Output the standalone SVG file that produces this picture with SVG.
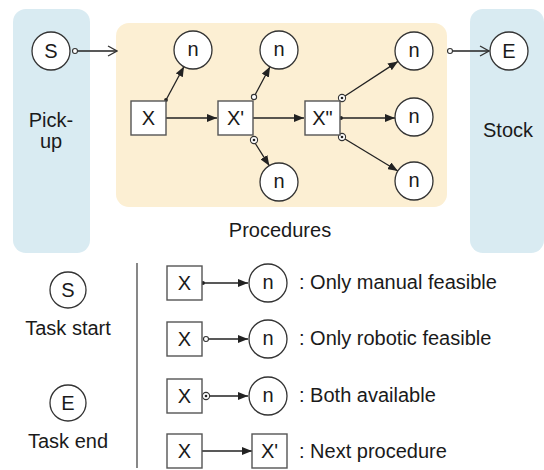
<svg xmlns="http://www.w3.org/2000/svg" width="544" height="470" viewBox="0 0 544 470">
<style>
text{font-family:"Liberation Sans",Arial,Helvetica,sans-serif;font-size:20px;fill:#1a1a1a;text-anchor:middle}
.lt{text-anchor:start}
.box{fill:#fff;stroke:#555;stroke-width:1.4}
.nd{fill:#fff;stroke:#333;stroke-width:1.3}
.ln{stroke:#222;stroke-width:1.3;fill:none}
.oc{fill:#fff;stroke:#333;stroke-width:1.1}
.dt{fill:#222}
</style>
<defs>
<marker id="ah" markerUnits="userSpaceOnUse" markerWidth="10" markerHeight="8" refX="10" refY="4" orient="auto"><path d="M0,0 L10,4 L0,8 z" fill="#222"/></marker>
<marker id="vee" markerUnits="userSpaceOnUse" markerWidth="11" markerHeight="12" refX="10" refY="6" orient="auto"><path d="M1,1 L10,6 L1,11" fill="none" stroke="#333" stroke-width="1.3"/></marker>
</defs>
<g id="panels">
<rect x="13" y="9" width="77" height="244" rx="13" fill="#d9ebf2"/>
<rect x="470" y="9" width="74" height="244" rx="13" fill="#d9ebf2"/>
<rect x="116" y="23" width="331" height="184" rx="13" fill="#fcefd3"/>
<text x="51" y="127">Pick-</text>
<text x="51" y="148">up</text>
<text x="508" y="137">Stock</text>
<text x="280" y="237">Procedures</text>
</g>
<g id="connectors">
<line class="ln" x1="77.5" y1="51" x2="117" y2="51" marker-end="url(#vee)"/>
<circle class="oc" cx="75" cy="51" r="2.5"/>
<line class="ln" x1="452.5" y1="51" x2="489" y2="51" marker-end="url(#vee)"/>
<circle class="oc" cx="450" cy="51" r="2.5"/>
<line class="ln" x1="166" y1="100" x2="184" y2="66.5" marker-end="url(#ah)"/>
<circle class="dt" cx="166" cy="100" r="1.9"/>
<line class="ln" x1="166" y1="118" x2="217" y2="118" marker-end="url(#ah)"/>
<line class="ln" x1="253" y1="118" x2="304" y2="118" marker-end="url(#ah)"/>
<line class="ln" x1="255" y1="95" x2="270" y2="66.8" marker-end="url(#ah)"/>
<circle class="oc" cx="254" cy="97" r="2.6"/>
<line class="ln" x1="255" y1="143" x2="269.3" y2="165.7" marker-end="url(#ah)"/>
<circle class="oc" cx="254" cy="140" r="3.6"/><circle class="dt" cx="254" cy="140" r="1.3"/>
<line class="ln" x1="345" y1="96" x2="398" y2="61.4" marker-end="url(#ah)"/>
<circle class="oc" cx="342" cy="98" r="3.6"/><circle class="dt" cx="342" cy="98" r="1.3"/>
<line class="ln" x1="341" y1="118" x2="395" y2="118" marker-end="url(#ah)"/>
<circle class="dt" cx="341" cy="118" r="1.9"/>
<line class="ln" x1="345" y1="139" x2="397.8" y2="171" marker-end="url(#ah)"/>
<circle class="oc" cx="342" cy="137" r="3.6"/><circle class="dt" cx="342" cy="137" r="1.3"/>
<line class="ln" x1="202" y1="283" x2="248" y2="283" marker-end="url(#ah)"/>
<circle class="dt" cx="203" cy="283" r="1.9"/>
<line class="ln" x1="208.5" y1="339" x2="248" y2="339" marker-end="url(#ah)"/>
<circle class="oc" cx="206" cy="339" r="2.5"/>
<line class="ln" x1="209.5" y1="396" x2="248" y2="396" marker-end="url(#ah)"/>
<circle class="oc" cx="206" cy="396" r="3.6"/><circle class="dt" cx="206" cy="396" r="1.3"/>
<line class="ln" x1="202" y1="451" x2="252" y2="451" marker-end="url(#ah)"/>
</g>
<g id="S"><circle class="nd" cx="51" cy="51" r="19"/><text x="51" y="58">S</text></g>
<g id="E"><circle class="nd" cx="509" cy="51" r="19"/><text x="509" y="58">E</text></g>
<g id="X"><rect class="box" x="131" y="101" width="35" height="34"/><text x="148.5" y="125">X</text></g>
<g id="Xp"><rect class="box" x="218" y="101" width="35" height="34"/><text x="235.5" y="125">X'</text></g>
<g id="Xpp"><rect class="box" x="305" y="101" width="35" height="34"/><text x="322.5" y="125">X"</text></g>
<g id="n1"><circle class="nd" cx="193" cy="50" r="19"/><text x="193" y="56">n</text></g>
<g id="n2"><circle class="nd" cx="279" cy="50" r="19"/><text x="279" y="56">n</text></g>
<g id="n3"><circle class="nd" cx="279" cy="182" r="19"/><text x="279" y="188">n</text></g>
<g id="n4"><circle class="nd" cx="414" cy="51" r="19"/><text x="414" y="57">n</text></g>
<g id="n5"><circle class="nd" cx="414" cy="117" r="19"/><text x="414" y="123">n</text></g>
<g id="n6"><circle class="nd" cx="414" cy="181" r="19"/><text x="414" y="187">n</text></g>
<g id="legend">
<line x1="137" y1="263" x2="137" y2="468" stroke="#555" stroke-width="1.4"/>
<g id="lgS"><circle class="nd" cx="68" cy="290" r="18"/><text x="68" y="297">S</text><text x="68" y="335">Task start</text></g>
<g id="lgE"><circle class="nd" cx="68" cy="403" r="18"/><text x="68" y="410">E</text><text x="68" y="448">Task end</text></g>
<g id="lg1"><rect class="box" x="167" y="266" width="35" height="34"/><text x="184.5" y="290">X</text><circle class="nd" cx="268" cy="283" r="19"/><text x="268" y="289">n</text><text class="lt" x="299" y="289">: Only manual feasible</text></g>
<g id="lg2"><rect class="box" x="167" y="322" width="35" height="34"/><text x="184.5" y="346">X</text><circle class="nd" cx="268" cy="339" r="19"/><text x="268" y="345">n</text><text class="lt" x="299" y="345">: Only robotic feasible</text></g>
<g id="lg3"><rect class="box" x="167" y="379" width="35" height="34"/><text x="184.5" y="403">X</text><circle class="nd" cx="268" cy="396" r="19"/><text x="268" y="402">n</text><text class="lt" x="299" y="402">: Both available</text></g>
<g id="lg4"><rect class="box" x="167" y="434" width="35" height="34"/><text x="184.5" y="458">X</text><rect class="box" x="252" y="434" width="35" height="34"/><text x="269.5" y="458">X'</text><text class="lt" x="299" y="458">: Next procedure</text></g>
</g>
</svg>
